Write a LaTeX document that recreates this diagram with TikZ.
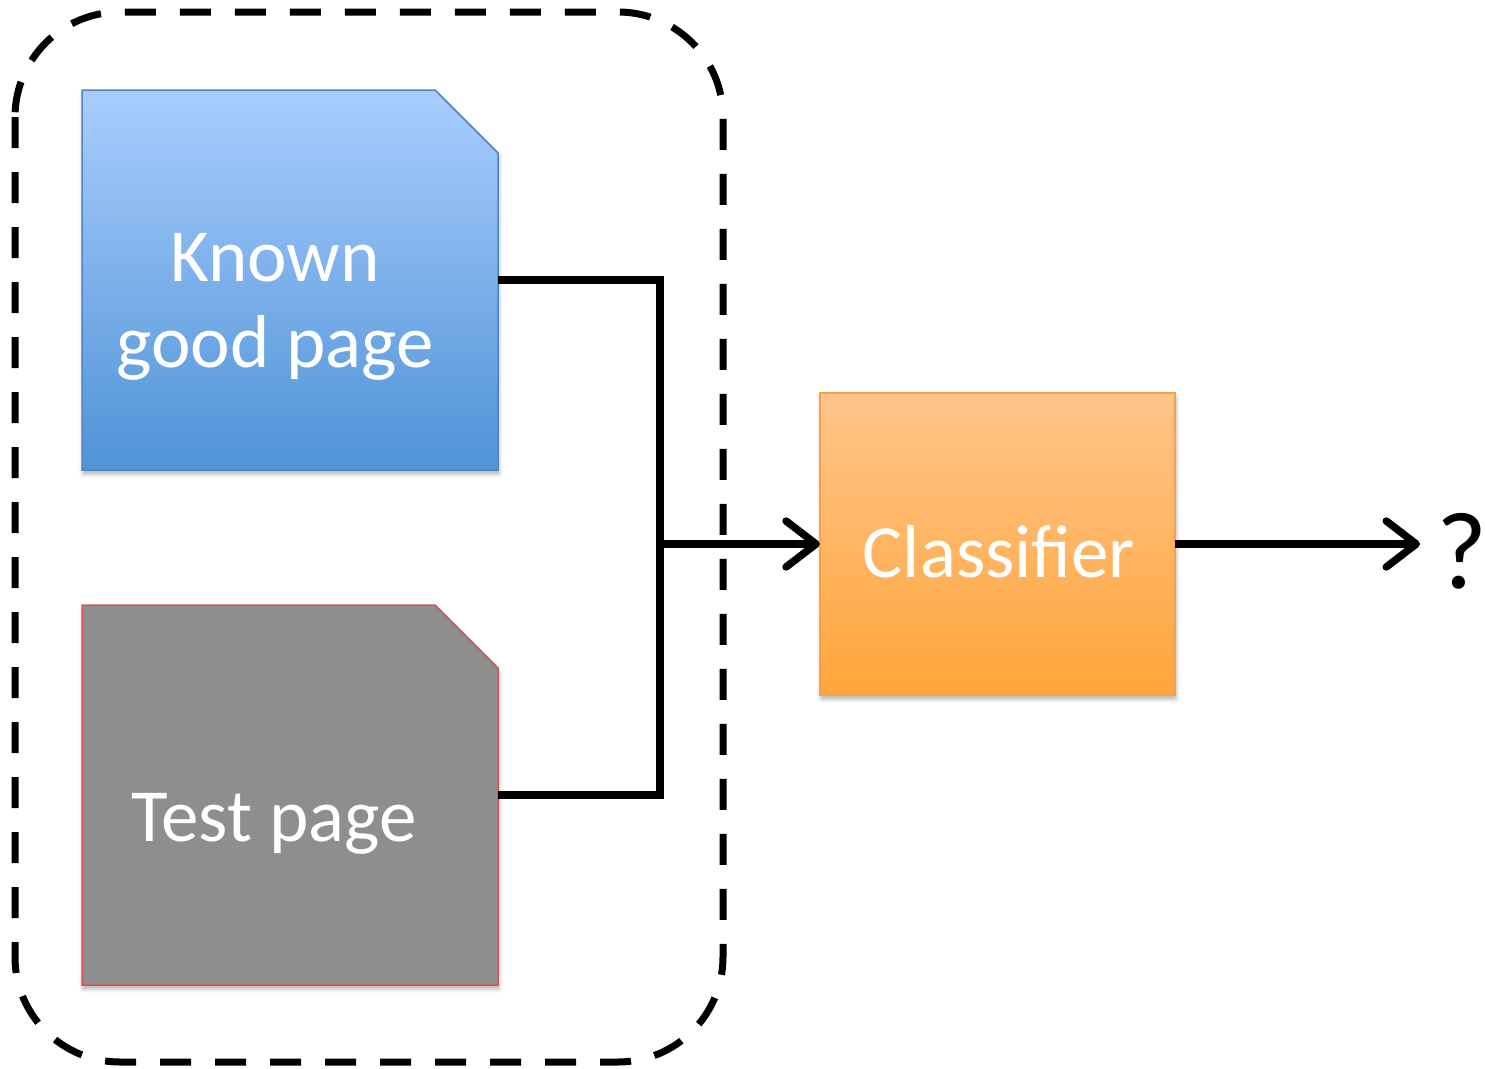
\documentclass[tikz,border=0pt]{standalone}
\usepackage{fontspec}
\setmainfont{Carlito}
\usetikzlibrary{arrows.meta,shadows.blur}

\definecolor{bluetop}{HTML}{A9CDFE}
\definecolor{bluebot}{HTML}{4F93D7}
\definecolor{blueline}{HTML}{4F84C2}
\definecolor{greyfill}{HTML}{8E8E8E}
\definecolor{greyline}{HTML}{D9534F}
\definecolor{orangetop}{HTML}{FFC58B}
\definecolor{orangebot}{HTML}{FFA53A}
\definecolor{orangeline}{HTML}{F7A047}

\tikzset{
  softshadow/.style={blur shadow={shadow xshift=1pt,shadow yshift=-4pt,shadow blur radius=4pt,shadow opacity=30}},
  label text/.style={text=white,align=center,inner sep=0pt,font=\fontsize{75}{86}\selectfont},
  pagebox/.style={minimum width=416pt,minimum height=380pt,inner sep=0pt},
  wire/.style={line width=7.5pt,black},
  flow/.style={wire,-{Straight Barb[length=30pt,width=46pt,line width=7.5pt,round]}},
  groupframe/.style={line width=7pt,dash pattern=on 31pt off 24pt,rounded corners=105pt},
}

\begin{document}
\begin{tikzpicture}[x=1pt,y=-1pt]
  \useasboundingbox (0,0) rectangle (1485,1068);

  % dashed frame round the two pages
  \draw[groupframe] (15,12) rectangle (723,1062);

  % document shapes with a cut corner
  \path[softshadow,top color=bluetop,bottom color=bluebot,draw=blueline,line width=1.5pt]
    (82,90) -- (435,90) -- (498,153) -- (498,470) -- (82,470) -- cycle;
  \path[softshadow,fill=greyfill,draw=greyline,line width=1.5pt]
    (82,605) -- (435,605) -- (498,668) -- (498,985) -- (82,985) -- cycle;
  \path[softshadow,top color=orangetop,bottom color=orangebot,draw=orangeline,line width=1.5pt]
    (820,393) rectangle (1175,695);

  % boxes used as connector ends
  \node[pagebox] (known) at (290,280) {};
  \node[pagebox] (test) at (290,795) {};
  \node[minimum width=355pt,minimum height=302pt,inner sep=0pt] (clf) at (997.5,544) {};

  % labels
  \node[label text,anchor=base] (knowntext) at (275,367) {Known\\good page};
  \node[label text,anchor=base] (testtext) at (274,841) {Test page};
  \node[label text,anchor=base] (clftext) at (999,577) {Classifier};
  \node[font=\fontsize{110}{112}\selectfont,inner sep=0pt,anchor=base] (result) at (1462,588) {?};

  % connectors
  \coordinate (join) at (660,544);
  \coordinate (out) at (1420,544);
  \draw[wire] (known.east) -| (join) |- (test.east);
  \draw[flow] ([xshift=-3.75pt]join) -- (clf.west);
  \draw[flow] (clf.east) -- (out);
\end{tikzpicture}
\end{document}
